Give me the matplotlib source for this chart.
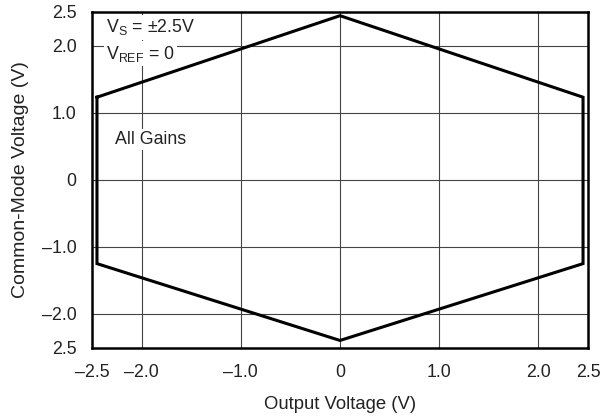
import matplotlib
matplotlib.use("Agg")
import matplotlib.pyplot as plt

# hexagon outline (output voltage vs common-mode voltage)
out_v = [-2.45, 0.0, 2.45, 2.45, 0.0, -2.45, -2.45]
cm_v = [1.23, 2.445, 1.23, -1.25, -2.395, -1.25, 1.23]

x_ticks = [-2.5, -2.0, -1.0, 0.0, 1.0, 2.0, 2.5]
x_labels = ["–2.5", "–2.0", "–1.0", "0", "1.0", "2.0", "2.5"]
y_ticks = [2.5, 2.0, 1.0, 0.0, -1.0, -2.0, -2.5]
y_labels = ["2.5", "2.0", "1.0", "0", "–1.0", "–2.0", "2.5"]
grid_x = [-2.0, -1.0, 0.0, 1.0, 2.0]
grid_y = [2.0, 1.0, 0.0, -1.0, -2.0]

plt.rcParams['font.family'] = ['Liberation Sans', 'DejaVu Sans']

fig = plt.figure(figsize=(6.03, 4.16), dpi=100)
ax = fig.add_axes([92/603, 1 - 347.5/416, 496/603, 335.5/416])

for gx in grid_x:
    ax.axvline(gx, color='#444444', linewidth=0.8, zorder=1)
for gy in grid_y:
    ax.axhline(gy, color='#444444', linewidth=0.8, zorder=1)

ax.plot(out_v, cm_v, color='black', linewidth=2.2, zorder=3, solid_joinstyle='miter')

ax.set_xlim(-2.5, 2.5)
ax.set_ylim(-2.5, 2.5)
ax.set_xticks(x_ticks)
ax.set_xticklabels(x_labels)
ax.set_yticks(y_ticks)
ax.set_yticklabels(y_labels)
ax.tick_params(axis='x', length=0, pad=12, labelsize=12.8, colors='#222222')
ax.tick_params(axis='y', length=0, pad=11, labelsize=12.8, colors='#222222')
for sp in ax.spines.values():
    sp.set_linewidth(1.8)

ax.set_xlabel("Output Voltage (V)", fontsize=13.3, labelpad=11, color='#222222')
ax.set_ylabel("Common-Mode Voltage (V)", fontsize=14, labelpad=9, color='#222222')

box = dict(facecolor='white', edgecolor='none', pad=1.5)
ax.text(-2.36, 2.27, r"V$_\mathregular{S}$ = ±2.5V", fontsize=12.8, va='center', ha='left',
        bbox=box, zorder=4, color='#222222')
ax.text(-2.36, 1.88, r"V$_\mathregular{REF}$ = 0", fontsize=12.8, va='center', ha='left',
        bbox=box, zorder=4, color='#222222')
ax.text(-2.27, 0.6, "All Gains", fontsize=12.8, va='center', ha='left',
        bbox=box, zorder=4, color='#222222')

fig.savefig("out.png", dpi=100)
